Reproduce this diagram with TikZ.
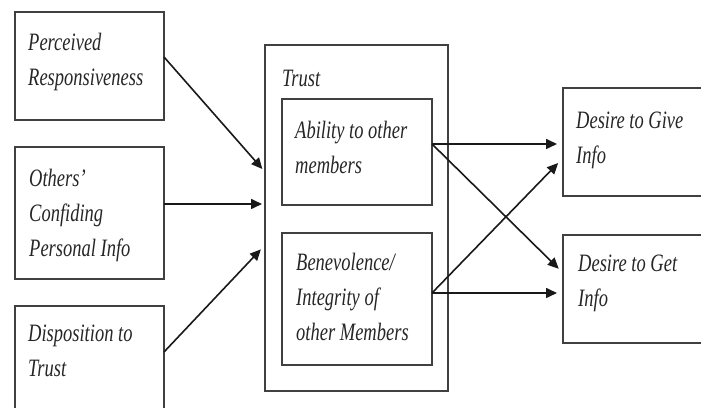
\documentclass[tikz,border=0pt]{standalone}
\usepackage{fontspec}
\newfontfamily\lblfont{Liberation Serif Italic}[FakeStretch=0.74]
\usetikzlibrary{arrows.meta}

\begin{document}
\begin{tikzpicture}[x=1pt,y=1pt,
  box/.style n args={2}{draw=black!75, line width=1.6pt, inner sep=0pt, outer sep=0pt,
    minimum width=#1, minimum height=#2},
  lbl/.style={anchor=north west, inner sep=0pt, align=left, text=black!85,
    font=\lblfont\fontsize{25}{35}\selectfont},
  link/.style={draw=black!90, line width=1.6pt, -{Triangle[length=11pt,width=10pt]}}]

\useasboundingbox (0,0) rectangle (701,407);
\clip (0,0) rectangle (701,407);
\fill[white] (0,0) rectangle (701,407);

% antecedents
\node[box={149pt}{108pt}] (P) at (89.5,341) {};
\node[box={149pt}{132pt}] (O) at (89.5,194) {};
\node[box={149pt}{124pt}] (D) at (89.5,39) {};

% trust and its two dimensions
\node[box={183pt}{346pt}] (T) at (356.5,189) {};
\node[box={150pt}{106pt}] (A) at (357,255) {};
\node[box={150pt}{132pt}] (B) at (357,108) {};

% outcomes
\node[box={162pt}{108pt}] (G) at (644,265) {};
\node[box={162pt}{108pt}] (R) at (644,118) {};

% labels
\node[lbl] (Pl) at ([xshift=13pt,yshift=-21pt]P.north west) {Perceived\\Responsiveness};
\node[lbl] (Ol) at ([xshift=14pt,yshift=-22pt]O.north west) {Others’\\Confiding\\Personal Info};
\node[lbl] (Dl) at ([xshift=13pt,yshift=-19pt]D.north west) {Disposition to\\Trust};
\node[lbl] (Tl) at ([xshift=17pt,yshift=-25pt]T.north west) {Trust};
\node[lbl] (Al) at ([xshift=13pt,yshift=-22pt]A.north west) {Ability to other\\members};
\node[lbl] (Bl) at ([xshift=14pt,yshift=-20pt]B.north west) {Benevolence/\\Integrity of\\other Members};
\node[lbl] (Gl) at ([xshift=13pt,yshift=-24pt]G.north west) {Desire to Give\\Info};
\node[lbl] (Rl) at ([xshift=15pt,yshift=-20pt]R.north west) {Desire to Get\\Info};

% antecedents into trust
\draw[link, shorten >=4pt] ([yshift=9pt]P.east) -- ([yshift=46pt]T.west);
\draw[link, shorten >=3pt] ([yshift=9pt]O.east) -- ([yshift=14pt]T.west);
\draw[link, shorten >=6pt] ([yshift=-46pt]D.north east) -- ([yshift=-27pt]T.west);

% trust dimensions into outcomes
\draw[link, shorten >=6pt] ([yshift=8pt]A.east) -- ([yshift=-2pt]G.west);
\draw[link, shorten >=6pt] ([yshift=8pt]A.east) -- ([yshift=16pt]R.west);
\draw[link, shorten >=7pt] ([yshift=6pt]B.east) -- ([yshift=-16pt]G.west);
\draw[link, shorten >=6pt] ([yshift=6pt]B.east) -- ([yshift=-4pt]R.west);
\end{tikzpicture}
\end{document}
